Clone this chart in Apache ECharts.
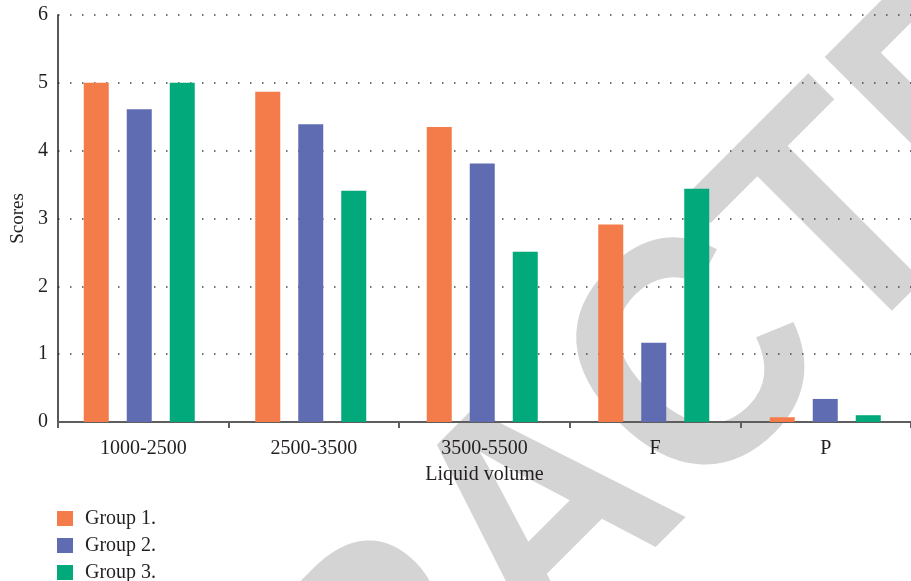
<!DOCTYPE html>
<html>
<head>
<meta charset="utf-8">
<title>Scores by liquid volume</title>
<script src="https://cdn.jsdelivr.net/npm/echarts@6/dist/echarts.min.js"></script>
<style>
  html, body { margin: 0; padding: 0; background: #ffffff; }
  #chart { width: 911px; height: 581px; }
</style>
</head>
<body>
<div id="chart"></div>
<script>
// Categories along the x axis
const categories = ['1000-2500', '2500-3500', '3500-5500', 'F', 'P'];

// Scores for each group
const group1 = [5.00, 4.87, 4.35, 2.91, 0.07];
const group2 = [4.61, 4.39, 3.81, 1.17, 0.34];
const group3 = [5.00, 3.41, 2.51, 3.44, 0.10];

const seriesNames = ['Group 1.', 'Group 2.', 'Group 3.'];
const seriesColors = ['#f37c4a', '#606cb2', '#02a97a'];

// Value axis range
const yMin = 0, yMax = 6, yStep = 1;

const FONT = 'Liberation Serif';
const INK = '#231f20';

const chart = echarts.init(document.getElementById('chart'), null, { renderer: 'canvas' });

const plotTop = 15, plotHeight = 407, plotWidth = 861.5;

const option = {
  backgroundColor: '#ffffff',
  animation: false,
  graphic: [{
    type: 'text',
    z: -10,
    silent: true,
    x: 551,
    y: 523,
    rotation: Math.PI / 4,
    scaleX: 0.9,
    scaleY: 1,
    style: {
      text: 'RETRACTED',
      font: 'bold 330px "Liberation Sans", Arial, sans-serif',
      fill: '#d4d4d4',
      align: 'center',
      verticalAlign: 'middle'
    }
  }],
  legend: {
    orient: 'vertical',
    left: 57,
    top: 508.5,
    height: 120,
    padding: 0,
    itemWidth: 16,
    itemHeight: 15,
    itemGap: 7,
    icon: 'rect',
    data: seriesNames,
    textStyle: {
      fontFamily: FONT,
      fontSize: 20,
      color: INK,
      lineHeight: 15,
      padding: [0, 0, 0, 7]
    }
  },
  grid: [
    { left: 58, top: plotTop, width: plotWidth, height: plotHeight },
    { left: 53.5, top: plotTop, width: plotWidth, height: plotHeight }
  ],
  xAxis: [
    {
      type: 'category',
      gridIndex: 0,
      data: categories,
      name: 'Liquid volume',
      nameLocation: 'middle',
      nameGap: 43,
      nameTextStyle: { fontFamily: FONT, fontSize: 20, color: INK },
      axisLine: { lineStyle: { color: '#5e5e5e', width: 2 } },
      axisTick: { show: true, length: 6, lineStyle: { color: '#5e5e5e', width: 2 } },
      axisLabel: { fontFamily: FONT, fontSize: 20, color: INK, margin: 17 },
      splitLine: { show: false }
    },
    {
      type: 'category',
      gridIndex: 1,
      data: categories,
      show: false
    }
  ],
  yAxis: [
    {
      type: 'value',
      gridIndex: 0,
      min: yMin,
      max: yMax,
      interval: yStep,
      name: 'Scores',
      nameLocation: 'middle',
      nameGap: 29,
      nameTextStyle: { fontFamily: FONT, fontSize: 19, color: INK },
      axisLine: { show: true, lineStyle: { color: INK, width: 1.5 } },
      axisTick: { show: false },
      axisLabel: { fontFamily: FONT, fontSize: 20, color: INK, margin: 10 },
      splitLine: {
        show: true,
        lineStyle: { color: '#444444', width: 1.5, type: [1.5, 10.5] }
      }
    },
    {
      type: 'value',
      gridIndex: 1,
      min: yMin,
      max: yMax,
      interval: yStep,
      show: false,
      splitLine: { show: false }
    }
  ],
  series: [group1, group2, group3].map((vals, i) => ({
    name: seriesNames[i],
    type: 'bar',
    xAxisIndex: 1,
    yAxisIndex: 1,
    data: vals,
    barWidth: 25,
    barGap: '72%',
    itemStyle: { color: seriesColors[i] },
    z: 3
  }))
};

chart.setOption(option);
</script>
</body>
</html>
